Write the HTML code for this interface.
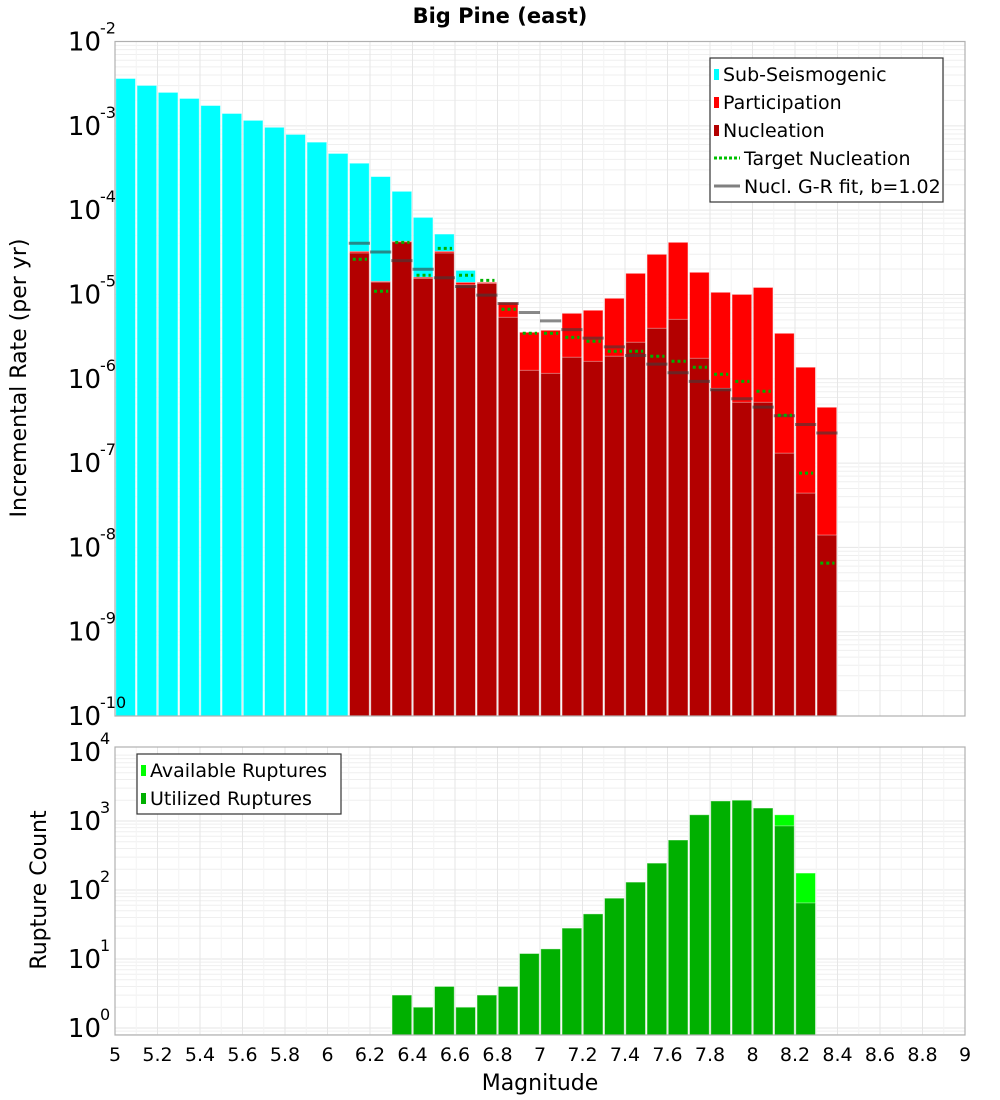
<!DOCTYPE html>
<html><head><meta charset="utf-8"><style>
body{margin:0;background:#fff;}
svg{display:block;font-family:"Liberation Sans","DejaVu Sans",sans-serif;}
</style></head><body>
<svg id="chart" width="1000" height="1100" viewBox="0 0 1000 1100" xmlns="http://www.w3.org/2000/svg">
<text x="500" y="23" text-anchor="middle" font-size="21" font-weight="bold" font-family="DejaVu Sans, sans-serif">Big Pine (east)</text>
<g id="topPlot"></g><g id="botPlot"></g>
<text transform="translate(26,378) rotate(-90)" text-anchor="middle" font-size="22" font-family="DejaVu Sans, sans-serif">Incremental Rate (per yr)</text>
<text transform="translate(46,890) rotate(-90)" text-anchor="middle" font-size="22" font-family="DejaVu Sans, sans-serif">Rupture Count</text>
<text x="540" y="1090" text-anchor="middle" font-size="22" font-family="DejaVu Sans, sans-serif">Magnitude</text>
</svg>
<script>
const subMags=[5.0,5.1,5.2,5.3,5.4,5.5,5.6,5.7,5.8,5.9,6.0,6.1,6.2,6.3,6.4,6.5,6.6];
const subRates=[3.64e-3,3.01e-3,2.49e-3,2.11e-3,1.74e-3,1.40e-3,1.16e-3,9.6e-4,7.9e-4,6.4e-4,4.7e-4,3.6e-4,2.5e-4,1.67e-4,8.2e-5,5.2e-5,1.93e-5];
const supraMags=[6.1,6.2,6.3,6.4,6.5,6.6,6.7,6.8,6.9,7.0,7.1,7.2,7.3,7.4,7.5,7.6,7.7,7.8,7.9,8.0,8.1,8.2,8.3];
const partRates=[3.24e-5,1.43e-5,4.27e-5,1.60e-5,3.24e-5,1.39e-5,1.39e-5,8.07e-6,3.56e-6,3.76e-6,5.97e-6,6.49e-6,9.0e-6,1.78e-5,2.99e-5,4.15e-5,1.83e-5,1.06e-5,1.0e-5,1.21e-5,3.46e-6,1.37e-6,4.59e-7];
const nuclRates=[3.1e-5,1.4e-5,4.2e-5,1.55e-5,3.1e-5,1.3e-5,1.35e-5,5.36e-6,1.26e-6,1.16e-6,1.80e-6,1.61e-6,1.85e-6,2.71e-6,3.97e-6,5.07e-6,1.75e-6,7.7e-7,5.26e-7,5.26e-7,1.31e-7,4.40e-8,1.40e-8];
const targetRates=[2.61e-5,1.09e-5,4.15e-5,1.69e-5,3.52e-5,1.69e-5,1.47e-5,6.67e-6,3.46e-6,3.46e-6,3.1e-6,2.78e-6,2.12e-6,2.12e-6,1.85e-6,1.61e-6,1.37e-6,1.13e-6,9.3e-7,7.1e-7,3.69e-7,7.6e-8,6.5e-9];
const grRates=[4.04e-5,3.19e-5,2.52e-5,1.99e-5,1.58e-5,1.24e-5,9.8e-6,7.8e-6,6.1e-6,4.85e-6,3.83e-6,3.03e-6,2.39e-6,1.89e-6,1.49e-6,1.18e-6,9.3e-7,7.4e-7,5.8e-7,4.6e-7,3.64e-7,2.87e-7,2.27e-7];
const countMags=[6.3,6.4,6.5,6.6,6.7,6.8,6.9,7.0,7.1,7.2,7.3,7.4,7.5,7.6,7.7,7.8,7.9,8.0,8.1,8.2];
const availCounts=[3,2,4,2,3,4,12,14,28,45,76,130,245,530,1230,1950,2000,1540,1230,176];
const usedCounts=[3,2,4,2,3,4,12,14,28,45,76,130,245,530,1230,1950,2000,1540,850,65];
const xTicks=["5","5.2","5.4","5.6","5.8","6","6.2","6.4","6.6","6.8","7","7.2","7.4","7.6","7.8","8","8.2","8.4","8.6","8.8","9"];
const topExps=[-2,-3,-4,-5,-6,-7,-8,-9,-10];
const botExps=[4,3,2,1,0];

const NS="http://www.w3.org/2000/svg";
const L=115,R=965;
const X=m=>L+(m-5)*(R-L)/4;
const T0=41.5,T1=716;
const Yt=v=>T0+(-2-Math.log10(v))*(T1-T0)/8;
const Yb=v=>1028-Math.log10(v)*69;
const B0=747,B1=1035;
const BW=(R-L)/40;
function mk(p,tag,a){const e=document.createElementNS(NS,tag);for(const k in a)e.setAttribute(k,a[k]);p.appendChild(e);return e;}
const gTop=document.getElementById('topPlot'),gBot=document.getElementById('botPlot');

function grid(g,y0,y1,ylog,minE,maxE){
  mk(g,'rect',{x:L,y:y0,width:R-L,height:y1-y0,fill:'#fff'});
  for(let e=minE;e<=maxE;e++){for(let k=1;k<10;k++){const y=ylog(k*Math.pow(10,e));if(y<y0-0.5||y>y1+0.5)continue;
    const l=mk(g,'line',{x1:L,x2:R,y1:y,y2:y,stroke:k==1?'#e6e6e6':'#efefef','stroke-width':1});
    
    }}
  for(let i=0;i<=40;i++){const x=X(5+i*0.1);
    const l=mk(g,'line',{x1:x,x2:x,y1:y0,y2:y1,stroke:i%2==0?'#e6e6e6':'#f4f4f4','stroke-width':1});
    
    }
}
grid(gTop,T0,T1,Yt,-10,-3);
grid(gBot,B0,B1,Yb,-1,3);

function bar(g,m,v,base,color,yf,name){
  const y=yf(v);const x=X(m)+0.8;
  const r=mk(g,'rect',{x:x,y:y,width:BW-1.6,height:base-y,fill:color,stroke:'rgba(255,255,255,0.5)','stroke-width':0.8});
  
  
}
subMags.forEach((m,i)=>bar(gTop,m,subRates[i],T1,'#00ffff',Yt,'sub-seismogenic-bar'));
supraMags.forEach((m,i)=>bar(gTop,m,partRates[i],T1,'#ff0000',Yt,'participation-bar'));
supraMags.forEach((m,i)=>bar(gTop,m,nuclRates[i],T1,'#b30000',Yt,'nucleation-bar'));
supraMags.forEach((m,i)=>{const y=Yt(grRates[i]);
  const l=mk(gTop,'line',{x1:X(m),x2:X(m)+BW,y1:y,y2:y,stroke:'rgba(60,60,60,0.6)','stroke-width':3});
  
  });
supraMags.forEach((m,i)=>{const y=Yt(targetRates[i]);
  const l=mk(gTop,'line',{x1:X(m)+4,x2:X(m)+BW-3,y1:y,y2:y,stroke:'#00b000','stroke-width':3,'stroke-dasharray':'3,3'});
  
  });
countMags.forEach((m,i)=>bar(gBot,m,availCounts[i],B1,'#00ff00',Yb,'available-ruptures-bar'));
countMags.forEach((m,i)=>bar(gBot,m,usedCounts[i],B1,'#00b000',Yb,'utilized-ruptures-bar'));

[[gTop,T0,T1],[gBot,B0,B1]].forEach(([g,a,b])=>{const f=mk(g,'rect',{x:L,y:a,width:R-L,height:b-a,fill:'none',stroke:'#b0b0b0','stroke-width':1.2});
  
  });

function ylab(g,y,e,name){
  const t=mk(g,'text',{x:101,y:y+9,'text-anchor':'end','font-size':26,'font-family':'DejaVu Sans, sans-serif'});t.textContent='10';
  
  
  const s=mk(g,'text',{x:100,y:y-8,'font-size':16,'font-family':'DejaVu Sans, sans-serif'});s.textContent=String(e);
  
  
}
topExps.forEach(e=>ylab(gTop,Yt(Math.pow(10,e)),e,'y-tick-label-top'));
botExps.forEach(e=>ylab(gBot,Yb(Math.pow(10,e)),e,'y-tick-label-bottom'));
xTicks.forEach((s,i)=>{const t=mk(gBot,'text',{x:X(5+i*0.2),y:1061,'text-anchor':'middle','font-size':19,'font-family':'DejaVu Sans, sans-serif'});t.textContent=s;
  
  });

function legend(g,x,y,w,items,name){
  const bx=mk(g,'rect',{x:x,y:y,width:w,height:items.length*28+4,fill:'#fff',stroke:'#333','stroke-width':1.2});
  
  
  items.forEach((it,i)=>{const cy=y+16+i*28;
    let sw;
    if(it.t=='bar')sw=mk(g,'rect',{x:x+4,y:cy-5,width:5,height:11,fill:it.c});
    else sw=mk(g,'line',{x1:x+4,x2:x+30,y1:cy,y2:cy,stroke:it.c,'stroke-width':3,'stroke-dasharray':it.d||'none'});
    
    
    const t=mk(g,'text',{x:x+(it.t=='bar'?13:34),y:cy+7,'font-size':19,'font-family':'DejaVu Sans, sans-serif'});t.textContent=it.l;
    
    });
}
legend(gTop,710,58,233,[{t:'bar',c:'#00ffff',l:'Sub-Seismogenic'},{t:'bar',c:'#ff0000',l:'Participation'},{t:'bar',c:'#b30000',l:'Nucleation'},{t:'line',c:'#00c000',d:'3,2',l:'Target Nucleation'},{t:'line',c:'#808080',l:'Nucl. G-R fit, b=1.02'}],'legend-top');
legend(gBot,137,754,204,[{t:'bar',c:'#00ff00',l:'Available Ruptures'},{t:'bar',c:'#00b000',l:'Utilized Ruptures'}],'legend-bottom');
</script>
</body></html>
